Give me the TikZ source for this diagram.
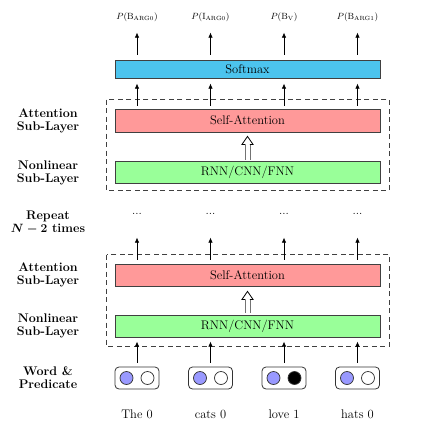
\documentclass[tikz,border=0pt]{standalone}
\usetikzlibrary{arrows.meta}
\definecolor{smcol}{RGB}{76,196,238}
\definecolor{sacol}{RGB}{255,153,153}
\definecolor{rnncol}{RGB}{153,255,153}
\definecolor{dotcol}{RGB}{153,153,255}
\newcommand\mainsz{\fontsize{12.5}{13}\selectfont}
\newcommand\smallsz{\fontsize{9}{10}\selectfont}
\begin{document}
\begin{tikzpicture}[x=1pt,y=-1pt,
  layerbox/.style={draw=black!75, line width=0.8pt, minimum width=265pt, inner sep=0pt, font=\mainsz},
  sidelabel/.style={font=\mainsz\bfseries, align=center},
  wordbox/.style={draw=black!80, line width=0.8pt, rounded corners=4pt, minimum width=44pt, minimum height=22pt, inner sep=0pt},
  unit/.style={circle, draw=black!80, line width=0.7pt, minimum size=13pt, inner sep=0pt},
  uparrow/.style={-{Latex[length=5pt,width=4.5pt]}, line width=0.7pt},
  dblshaft/.style={draw=black!55, line width=0.75pt},
  dblhead/.style={draw=black, line width=0.8pt, fill=white, line join=miter},
  dashbox/.style={draw=black!75, line width=0.8pt, dash pattern=on 5pt off 3.5pt},
  toplabel/.style={font=\smallsz, inner sep=0pt},
  wordlabel/.style={font=\mainsz, inner sep=0pt},
  dotslabel/.style={font=\fontsize{12}{13}\selectfont, inner sep=0pt}
]
\useasboundingbox (0,0) rectangle (428,439);

% layer boxes
\node[layerbox, fill=smcol, minimum height=18pt] (sm) at (247.5,69) {Softmax};
\node[layerbox, fill=sacol, minimum height=23pt] (saU) at (247.5,120.5) {Self-Attention};
\node[layerbox, fill=rnncol, minimum height=22pt] (rnnU) at (247.5,172) {RNN/CNN/FNN};
\node[layerbox, fill=sacol, minimum height=22pt] (saL) at (247.5,275) {Self-Attention};
\node[layerbox, fill=rnncol, minimum height=22pt] (rnnL) at (247.5,326) {RNN/CNN/FNN};

% dashed boxes
\draw[dashbox] ([shift={(-8,-9)}]saU.north west) rectangle ([shift={(9,7)}]rnnU.south east);
\draw[dashbox] ([shift={(-8,-9)}]saL.north west) rectangle ([shift={(9,9)}]rnnL.south east);

% double arrows (hollow, like \Uparrow)
\coordinate (hu) at ([yshift=-4pt]saU.south);
\coordinate (hl) at ([yshift=-5pt]saL.south);
\begin{scope}[shift={(hu)}]
  \draw[dblshaft] (-2.4,7) -- (-2.4,23.5);
  \draw[dblshaft] (2.4,7) -- (2.4,23.5);
  \draw[dblhead] (-2.4,8) -- (-5.5,8) -- (0,0) -- (5.5,8) -- (2.4,8);
\end{scope}
\begin{scope}[shift={(hl)}]
  \draw[dblshaft] (-2.4,7) -- (-2.4,21.5);
  \draw[dblshaft] (2.4,7) -- (2.4,21.5);
  \draw[dblhead] (-2.4,8) -- (-5.5,8) -- (0,0) -- (5.5,8) -- (2.4,8);
\end{scope}

% side labels
\node[sidelabel] (lab1) at (48,120.5) {Attention\\Sub-Layer};
\node[sidelabel] (lab2) at (48,172.5) {Nonlinear\\Sub-Layer};
\node[sidelabel] (lab3) at (48,223) {Repeat\\{\boldmath$N-2$} times};
\node[sidelabel] (lab4) at (48,275) {Attention\\Sub-Layer};
\node[sidelabel] (lab5) at (48,326) {Nonlinear\\Sub-Layer};
\node[sidelabel] (lab6) at (48,378) {Word \&\\Predicate};

% columns
\foreach \i/\x/\top/\w/\b in {1/137/{$P(\mathrm{B}_{\mathrm{ARG0}})$}/The 0/white,
                          2/210.5/{$P(\mathrm{I}_{\mathrm{ARG0}})$}/cats 0/white,
                          3/284/{$P(\mathrm{B}_{\mathrm{V}})$}/love 1/black,
                          4/357.5/{$P(\mathrm{B}_{\mathrm{ARG1}})$}/hats 0/white} {
  \node[toplabel] (p\i) at (\x,17) {\top};
  \node[dotslabel] (d\i) at (\x,214) {...};
  \node[wordbox] (wb\i) at (\x,378) {};
  \node[unit, fill=dotcol] (ua\i) at ([xshift=-10.5pt]wb\i.center) {};
  \node[unit, fill=\b] (ub\i) at ([xshift=10.5pt]wb\i.center) {};
  \node[wordlabel] (w\i) at (\x,414) {\w};
  \draw[uparrow] ([yshift=5pt]sm.north -| wb\i) -- ++(0,-22);
  \draw[uparrow] ([yshift=3pt]saU.north -| wb\i) -- ++(0,-22);
  \draw[uparrow] ([yshift=4pt]saL.north -| wb\i) -- ++(0,-22);
  \draw[uparrow] ([yshift=4pt]wb\i.north) -- ++(0,-21);
}
\end{tikzpicture}
\end{document}
